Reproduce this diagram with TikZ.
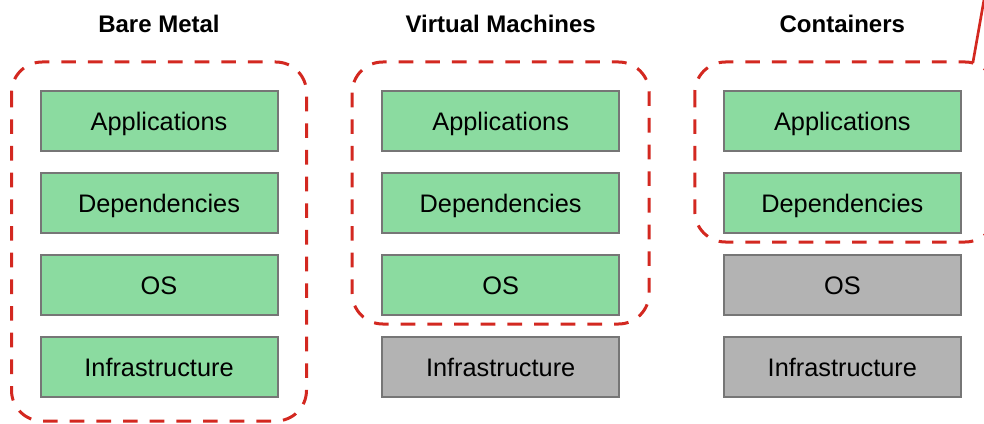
\documentclass[tikz,border=0pt]{standalone}
\usepackage{fontspec}
\setmainfont{Liberation Sans}
\usetikzlibrary{positioning,calc}

\definecolor{layergreen}{RGB}{139,219,160}
\definecolor{layergray}{RGB}{179,179,179}
\definecolor{layerline}{RGB}{118,118,118}
\definecolor{scopered}{RGB}{211,40,32}

\begin{document}
\begin{tikzpicture}[x=0.75pt,y=-0.75pt,node distance=15pt and 77pt]
  \tikzstyle{layer}=[rectangle,draw=layerline,line width=1.5pt,fill=layergreen,text=black,
                     minimum width=177.75pt,minimum height=45pt,inner sep=0pt,
                     font=\fontsize{19}{21}\selectfont,text height=13.6pt,text depth=0pt]
  \tikzstyle{host}=[layer,fill=layergray]
  \tikzstyle{title}=[anchor=base,font=\fontsize{18}{20}\selectfont\bfseries]
  \tikzstyle{scope}=[draw=scopered,line width=2.25pt,dash pattern=on 11pt off 9pt,
                     rounded corners=23pt]

  \useasboundingbox (0,0) rectangle (984,424);
  \clip (0,0) rectangle (984,424);

  % bare metal
  \node[layer]         (app1) at (159,121) {Applications};
  \node[layer]         (dep1) [below=of app1] {Dependencies};
  \node[layer]         (os1)  [below=of dep1] {OS};
  \node[layer]         (inf1) [below=of os1]  {Infrastructure};

  % virtual machines
  \node[layer]         (app2) [right=of app1] {Applications};
  \node[layer]         (dep2) [below=of app2] {Dependencies};
  \node[layer]         (os2)  [below=of dep2] {OS};
  \node[host]          (inf2) [below=of os2]  {Infrastructure};

  % containers
  \node[layer]         (app3) [right=of app2] {Applications};
  \node[layer]         (dep3) [below=of app3] {Dependencies};
  \node[host]          (os3)  [below=of dep3] {OS};
  \node[host]          (inf3) [below=of os3]  {Infrastructure};

  \coordinate (toprow) at (0,33);
  \node[title] (bare)  at (app1 |- toprow) {Bare Metal};
  \node[title] (vms)   at (app2 |- toprow) {Virtual Machines};
  \node[title] (ctrs)  at (app3 |- toprow) {Containers};

  \draw[scope] ($(app1.north west)+(-28,-28)$) rectangle ($(inf1.south east)+(28,23)$);
  \draw[scope] ($(app2.north west)+(-29,-28)$) rectangle ($(os2.south east)+(29,8)$);
  \draw[scope] ($(app3.north west)+(-28,-28)$) rectangle ($(dep3.south east)+(34,8)$);

  \coordinate (corner3) at ($(app3.north east)+(11,-27)$);
  \coordinate (callout) at (985,-6);
  \draw[scopered,line width=2pt] (corner3) -- (callout);
\end{tikzpicture}
\end{document}
